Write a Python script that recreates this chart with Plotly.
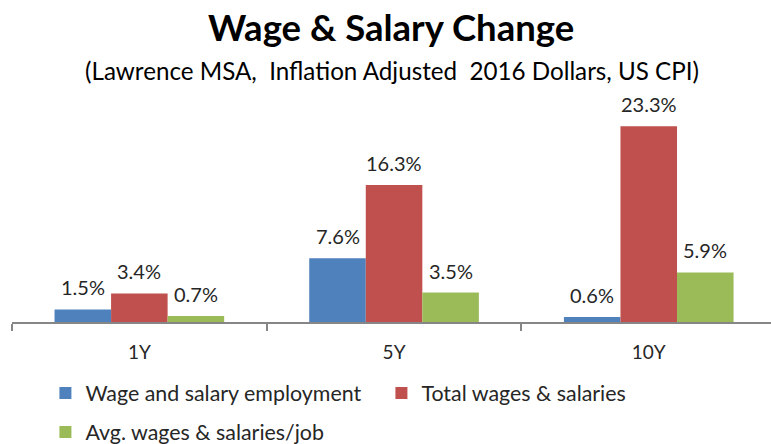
import plotly.graph_objects as go

# Periods and percent change values per series
periods = ["1Y", "5Y", "10Y"]
employment = [1.5, 7.6, 0.6]
total_wages = [3.4, 16.3, 23.3]
avg_wages = [0.7, 3.5, 5.9]

series_names = [
    "Wage and salary employment",
    "Total wages & salaries",
    "Avg. wages & salaries/job",
]
series_values = [employment, total_wages, avg_wages]
series_colors = ["#4F81BD", "#C0504D", "#9BBB59"]
series_legends = ["legend", "legend", "legend2"]

FONT = "Lato"
TEXT = "#262626"

H, T, B = 444, 112, 122
PLOT_H = H - T - B


def paper_y(px):
    # convert a pixel row of the page into paper y
    return (H - B - px) / PLOT_H


fig = go.Figure()
for name, vals, color, lg in zip(series_names, series_values, series_colors, series_legends):
    fig.add_trace(go.Bar(
        x=periods, y=vals, name=name, marker_color=color,
        marker_line_width=0, legend=lg,
    ))

# Value labels above each bar
bar_px = 56.5
for i, vals in enumerate(series_values):
    for p, v in zip(periods, vals):
        fig.add_annotation(
            x=p, y=v, text=f"{v:.1f}%", showarrow=False,
            xshift=(i - 1) * bar_px, yshift=22, yanchor="middle",
            font=dict(family=FONT, size=20, color=TEXT),
        )

fig.add_annotation(
    text="<b>Wage & Salary Change</b>", xref="paper", yref="paper",
    x=0.499, y=paper_y(27), showarrow=False, yanchor="middle",
    font=dict(family=FONT, size=36.5, color="#000000"),
)
fig.add_annotation(
    text="(Lawrence MSA,  Inflation Adjusted  2016 Dollars, US CPI)",
    xref="paper", yref="paper", x=0.501, y=paper_y(70),
    showarrow=False, yanchor="middle",
    font=dict(family=FONT, size=24.2, color="#000000"),
)

fig.update_layout(
    width=771, height=H,
    margin=dict(l=12, r=0, t=T, b=B),
    paper_bgcolor="white", plot_bgcolor="white",
    barmode="group", bargap=0.334, bargroupgap=0,
    showlegend=True,
    legend=dict(
        orientation="h", xref="container", yref="container",
        x=0.0589, y=1 - 393 / H, yanchor="middle", xanchor="left",
        entrywidth=291, font=dict(family=FONT, size=21.4, color=TEXT),
        bgcolor="rgba(0,0,0,0)",
    ),
    legend2=dict(
        orientation="h", xref="container", yref="container",
        x=0.0589, y=1 - 432 / H, yanchor="middle", xanchor="left",
        font=dict(family=FONT, size=21.4, color=TEXT),
        bgcolor="rgba(0,0,0,0)",
    ),
    xaxis=dict(
        type="category", range=[-0.5, 2.48],
        showline=True, linecolor="#868686", linewidth=2,
        ticks="outside", tickson="boundaries", ticklen=7,
        tickcolor="#868686", tickwidth=2,
        showgrid=False, tickfont=dict(family=FONT, size=19, color=TEXT),
        ticklabelstandoff=12,
    ),
    yaxis=dict(range=[0, 25], visible=False, showgrid=False, zeroline=False),
)

fig.write_html("out.html")
